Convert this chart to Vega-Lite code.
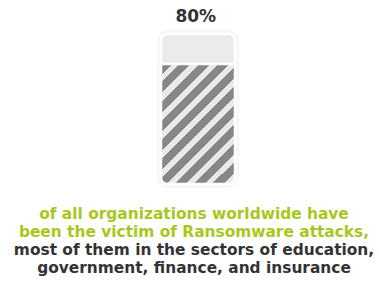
{
  "$schema": "https://vega.github.io/schema/vega-lite/v6.json",
  "width": 379,
  "height": 289,
  "padding": 0,
  "autosize": {"type": "none"},
  "background": "#ffffff",
  "config": {"view": {"stroke": null}},
  "datasets": {
    "stat": [{"label": "80%", "value": 80, "max": 100, "min": 0}],
    "caption": [
      {"kind": "highlight", "lines": ["of all organizations worldwide have", "been the victim of Ransomware attacks,"]},
      {"kind": "detail", "lines": ["most of them in the sectors of education,", "government, finance, and insurance"]}
    ]
  },
  "data": {"name": "stat"},
  "encoding": {
    "x": {"datum": 0, "type": "quantitative", "scale": {"domain": [-2.1757, 2.9459], "nice": false, "zero": false}, "axis": null},
    "x2": {"datum": 1}
  },
  "layer": [
    {
      "mark": {"type": "rect", "fill": null, "stroke": "#000000", "strokeOpacity": 0.035, "strokeWidth": 8, "cornerRadius": 8},
      "encoding": {
        "y": {"field": "max", "type": "quantitative", "scale": {"domain": [-70, 122.667], "nice": false, "zero": false}, "axis": null},
        "y2": {"field": "min"}
      }
    },
    {
      "mark": {"type": "rect", "fill": "#ebebeb", "stroke": "#ffffff", "strokeWidth": 2.5, "cornerRadius": 6},
      "encoding": {
        "y": {"field": "max", "type": "quantitative"},
        "y2": {"field": "min"}
      }
    },
    {
      "mark": {
        "type": "rect",
        "stroke": "#ffffff",
        "strokeWidth": 2.5,
        "cornerRadiusBottomLeft": 6,
        "cornerRadiusBottomRight": 6,
        "fill": {
          "gradient": "linear",
          "x1": 0, "y1": 0, "x2": 0.7223, "y2": 1.1713,
          "stops": [
            {"offset": 0, "color": "#878787"}, {"offset": 0.0567, "color": "#878787"},
            {"offset": 0.0567, "color": "#e9e9e9"}, {"offset": 0.0979, "color": "#e9e9e9"},
            {"offset": 0.0979, "color": "#878787"}, {"offset": 0.1546, "color": "#878787"},
            {"offset": 0.1546, "color": "#e9e9e9"}, {"offset": 0.1959, "color": "#e9e9e9"},
            {"offset": 0.1959, "color": "#878787"}, {"offset": 0.2526, "color": "#878787"},
            {"offset": 0.2526, "color": "#e9e9e9"}, {"offset": 0.2938, "color": "#e9e9e9"},
            {"offset": 0.2938, "color": "#878787"}, {"offset": 0.3505, "color": "#878787"},
            {"offset": 0.3505, "color": "#e9e9e9"}, {"offset": 0.3918, "color": "#e9e9e9"},
            {"offset": 0.3918, "color": "#878787"}, {"offset": 0.4485, "color": "#878787"},
            {"offset": 0.4485, "color": "#e9e9e9"}, {"offset": 0.4897, "color": "#e9e9e9"},
            {"offset": 0.4897, "color": "#878787"}, {"offset": 0.5464, "color": "#878787"},
            {"offset": 0.5464, "color": "#e9e9e9"}, {"offset": 0.5876, "color": "#e9e9e9"},
            {"offset": 0.5876, "color": "#878787"}, {"offset": 0.6443, "color": "#878787"},
            {"offset": 0.6443, "color": "#e9e9e9"}, {"offset": 0.6856, "color": "#e9e9e9"},
            {"offset": 0.6856, "color": "#878787"}, {"offset": 0.7423, "color": "#878787"},
            {"offset": 0.7423, "color": "#e9e9e9"}, {"offset": 0.7835, "color": "#e9e9e9"},
            {"offset": 0.7835, "color": "#878787"}, {"offset": 0.8402, "color": "#878787"},
            {"offset": 0.8402, "color": "#e9e9e9"}, {"offset": 0.8814, "color": "#e9e9e9"},
            {"offset": 0.8814, "color": "#878787"}, {"offset": 0.9381, "color": "#878787"},
            {"offset": 0.9381, "color": "#e9e9e9"}, {"offset": 0.9794, "color": "#e9e9e9"},
            {"offset": 0.9794, "color": "#878787"}, {"offset": 1, "color": "#878787"}
          ]
        }
      },
      "encoding": {
        "y": {"field": "value", "type": "quantitative"},
        "y2": {"field": "min"}
      }
    },
    {
      "mark": {"type": "text", "font": "DejaVu Sans", "fontWeight": "bold", "fontSize": 17, "color": "#333333", "align": "center", "baseline": "alphabetic"},
      "encoding": {
        "x": {"datum": 0.47, "type": "quantitative"},
        "x2": null,
        "y": {"datum": 108.2, "type": "quantitative"},
        "text": {"field": "label", "type": "nominal"}
      }
    },
    {
      "data": {"name": "caption"},
      "transform": [{"filter": "datum.kind === 'highlight'"}],
      "mark": {"type": "text", "font": "DejaVu Sans", "fontWeight": "bold", "fontSize": 15.4, "lineHeight": 17.9, "align": "center", "baseline": "alphabetic", "color": "#a6c81c"},
      "encoding": {
        "x": {"datum": 0.446, "type": "quantitative"},
        "x2": null,
        "y": {"datum": -23.3, "type": "quantitative"},
        "text": {"field": "lines", "type": "nominal"}
      }
    },
    {
      "data": {"name": "caption"},
      "transform": [{"filter": "datum.kind === 'detail'"}],
      "mark": {"type": "text", "font": "DejaVu Sans", "fontWeight": "bold", "fontSize": 15.4, "lineHeight": 17.9, "align": "center", "baseline": "alphabetic", "color": "#333333"},
      "encoding": {
        "x": {"datum": 0.446, "type": "quantitative"},
        "x2": null,
        "y": {"datum": -47.1, "type": "quantitative"},
        "text": {"field": "lines", "type": "nominal"}
      }
    }
  ]
}
